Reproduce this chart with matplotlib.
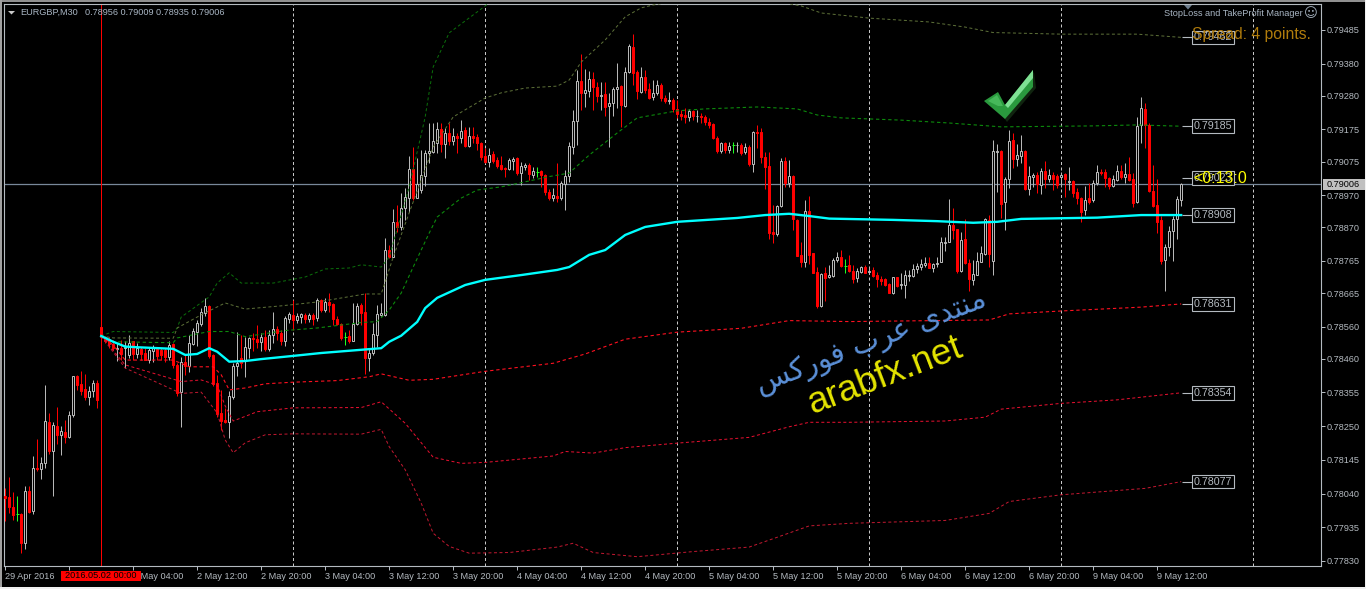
import matplotlib
matplotlib.use("Agg")
import numpy as np
import matplotlib.pyplot as plt
from matplotlib.patches import Polygon, Rectangle

plt.rcParams["font.family"] = ["Liberation Sans", "DejaVu Sans"]

# EURGBP M30 candles, prices in points (0.00001)
opens = [78031,78029,77999,77975,77977,77885,78048,77984,78119,78116,
78135,78262,78171,78252,78221,78231,78215,78285,78407,78382,
78366,78342,78361,78384,78558,78527,78521,78507,78490,78493,
78493,78472,78514,78475,78490,78479,78457,78483,78490,78486,
78488,78467,78507,78441,78355,78449,78438,78507,78545,78568,
78604,78625,78471,78384,78290,78270,78264,78342,78436,78462,
78457,78495,78526,78521,78511,78529,78491,78535,78552,78540,
78516,78583,78597,78581,78589,78597,78583,78597,78587,78642,
78612,78636,78631,78584,78568,78529,78531,78514,78568,78628,
78605,78462,78477,78535,78597,78597,78799,78778,78886,78872,
78929,78962,79052,78962,78986,79031,79101,79106,79134,79175,
79129,79163,79139,79155,79147,79173,79124,79156,79150,79132,
79093,79075,79097,79080,79064,79055,79051,79078,79085,79038,
79057,79064,79034,79043,79044,79032,78981,78960,78968,78962,
79005,79031,79121,79202,79326,79288,79296,79331,79308,79280,
79286,79248,79256,79300,79310,79248,79353,79431,79354,79293,
79337,79300,79277,79288,79314,79274,79265,79267,79238,79223,
79220,79215,79233,79216,79216,79213,79199,79191,79147,79109,
79132,79111,79127,79125,79127,79104,79119,79066,79168,79166,
79088,79061,78854,78849,78936,79077,79009,79030,78892,78782,
78761,78921,78789,78729,78625,78726,78714,78718,78768,78776,
78750,78752,78733,78711,78731,78745,78732,78737,78720,78709,
78709,78693,78664,78714,78689,78690,78718,78718,78739,78747,
78752,78760,78744,78754,78763,78822,78825,78877,78864,78735,
78832,78760,78705,78721,78763,78786,78892,78766,79105,79108,
78950,79022,79142,79083,79093,79108,78988,79028,79033,79003,
79045,79020,79033,79030,79027,79036,79012,79014,78981,78962,
78923,78960,78955,79007,79043,79041,79024,78998,79017,79046,
79027,79036,79020,78948,79188,79240,79188,78983,78939,78892,
78769,78807,78857,78895,78956]
highs = [78057,78093,78046,78031,77979,78062,78064,78157,78210,78155,
78379,78292,78264,78311,78249,78270,78296,78407,78408,78423,
78413,78374,78394,78394,78558,78531,78529,78519,78509,78519,
78514,78535,78516,78509,78498,78493,78498,78503,78498,78493,
78493,78514,78509,78446,78467,78472,78535,78555,78581,78618,
78649,78628,78475,78410,78363,78306,78358,78446,78545,78535,
78529,78529,78540,78566,78540,78550,78550,78607,78561,78550,
78592,78607,78642,78602,78602,78602,78602,78602,78649,78646,
78649,78664,78633,78592,78571,78542,78550,78633,78633,78633,
78664,78493,78571,78628,78633,78836,78815,78927,78940,78976,
78991,79092,79121,79085,79111,79111,79196,79196,79197,79194,
79178,79196,79178,79163,79204,79182,79182,79182,79161,79137,
79116,79116,79109,79090,79092,79059,79085,79090,79090,79075,
79071,79069,79057,79057,79049,79036,78988,78991,79069,79015,
79049,79137,79236,79360,79410,79362,79358,79355,79324,79324,
79324,79288,79308,79383,79314,79369,79441,79473,79360,79371,
79360,79319,79329,79329,79319,79282,79293,79272,79267,79236,
79241,79238,79236,79236,79225,79220,79210,79196,79153,79137,
79137,79137,79137,79137,79134,79132,79127,79170,79189,79178,
79106,79105,78939,78939,79085,79090,79079,79033,78895,78825,
78955,78967,78791,78747,78728,78745,78752,78773,78794,78799,
78770,78783,78752,78742,78749,78752,78747,78747,78731,78718,
78711,78695,78716,78716,78726,78737,78737,78757,78760,78770,
78778,78778,78760,78778,78841,78841,78958,78929,78866,78856,
78895,78770,78768,78794,78811,78898,78908,79142,79131,79111,
79028,79173,79163,79131,79157,79111,79061,79038,79043,79055,
79076,79053,79043,79036,79043,79040,79059,79017,78991,78965,
78998,79007,79017,79064,79053,79053,79027,79033,79064,79064,
79069,79090,79038,79214,79275,79256,79194,79064,79022,78906,
78817,78875,78906,78966,79009]
lows = [77953,77979,77956,77953,77856,77866,77979,77977,78109,78085,
78119,78164,78031,78195,78161,78199,78212,78278,78363,78348,
78332,78316,78340,78308,78527,78509,78493,78488,78454,78457,
78431,78462,78457,78462,78457,78455,78446,78451,78457,78457,
78451,78457,78431,78344,78246,78410,78420,78503,78500,78561,
78592,78462,78374,78280,78238,78259,78212,78334,78405,78431,
78402,78462,78483,78493,78483,78485,78483,78509,78519,78503,
78501,78571,78550,78571,78571,78571,78576,78566,78579,78607,
78607,78605,78566,78566,78519,78503,78509,78514,78566,78566,
78413,78423,78472,78498,78592,78592,78773,78778,78856,78862,
78893,78919,78955,78960,78976,78999,79069,79101,79101,79106,
79085,79127,79127,79101,79132,79119,79121,79132,79111,79080,
79069,79059,79071,79054,79049,79026,79049,79049,79033,79001,
79049,79017,79023,79026,78997,78971,78955,78953,78950,78955,
78924,79012,79098,79127,79236,79244,79277,79236,79262,79236,
79217,79121,79217,79241,79184,79244,79350,79314,79270,79288,
79288,79269,79267,79282,79265,79258,79254,79230,79210,79204,
79196,79202,79204,79199,79196,79189,79178,79144,79101,79101,
79103,79103,79103,79106,79095,79098,79061,79043,79116,79069,
78988,78832,78820,78843,78932,78996,78994,78861,78780,78747,
78745,78757,78726,78617,78622,78641,78711,78716,78763,78747,
78726,78731,78697,78700,78726,78726,78724,78714,78685,78690,
78687,78664,78662,78685,78679,78648,78703,78716,78726,78737,
78747,78742,78731,78745,78761,78797,78823,78832,78726,78731,
78755,78672,78690,78721,78761,78783,78745,78721,78981,78898,
78861,78991,79056,79061,79071,78986,78970,78996,78976,78975,
78991,79012,78986,78991,78994,78965,78986,78965,78944,78887,
78908,78944,78950,79001,79033,78996,78989,78996,79015,79022,
79007,79015,78934,78946,79133,79116,78981,78934,78851,78755,
78672,78781,78766,78833,78935]
closes = [78025,77999,77973,77975,77885,78049,77982,78119,78115,78135,
78266,78171,78254,78221,78236,78215,78285,78405,78379,78361,
78342,78361,78386,78330,78527,78514,78507,78495,78493,78475,
78498,78509,78475,78493,78475,78457,78486,78493,78469,78472,
78467,78503,78441,78353,78451,78439,78509,78548,78571,78605,
78625,78469,78382,78288,78266,78264,78344,78439,78446,78446,
78496,78524,78521,78511,78527,78491,78535,78552,78540,78516,
78587,78599,78581,78592,78599,78584,78597,78584,78642,78612,
78638,78628,78584,78568,78524,78529,78514,78569,78625,78604,
78462,78479,78537,78600,78602,78799,78776,78886,78872,78929,
78963,79051,78960,79005,79033,79101,79108,79139,79176,79129,
79163,79139,79155,79147,79170,79124,79155,79149,79132,79090,
79075,79095,79078,79062,79053,79051,79080,79083,79038,79061,
79064,79035,79044,79043,79032,78981,78962,78970,78962,79007,
79031,79123,79202,79326,79288,79298,79331,79308,79280,79282,
79246,79258,79301,79308,79251,79355,79436,79352,79296,79337,
79298,79272,79288,79314,79272,79264,79267,79238,79222,79217,
79215,79233,79217,79218,79213,79198,79189,79147,79109,79132,
79111,79124,79127,79127,79103,79119,79066,79166,79163,79088,
79059,78853,78850,78936,79077,79009,79030,78895,78781,78761,
78921,78783,78728,78625,78724,78711,78720,78768,78778,78749,
78750,78733,78708,78733,78745,78728,78735,78718,78708,78704,
78690,78666,78714,78688,78693,78721,78721,78739,78750,78754,
78760,78744,78754,78760,78823,78825,78877,78863,78735,78830,
78759,78709,78723,78765,78789,78895,78786,79108,79108,78944,
79022,79139,79083,79095,79108,78988,79030,79033,79005,79045,
79020,79033,79022,79001,79033,79020,79014,78977,78962,78918,
78955,78949,79007,79041,79040,79024,78998,79019,79046,79027,
79036,79017,78946,79185,79243,79188,78983,78937,78887,78766,
78807,78857,78895,78958,79006]

# anchored vwap and bands, read at the bars where the line bends
mid_bars = [24,27,30,33,42,45,48,51,53,56,60,64,72,79,89,94,96,99,103,105,108,115,120,129,138,141,146,150,155,160,168,183,190,196,201,206,222,233,242,248,254,273,284,294]
mid_vals = [78531,78513,78498,78496,78491,78472,78475,78493,78482,78451,78453,78459,78469,78478,78488,78493,78513,78532,78575,78618,78650,78690,78706,78721,78737,78746,78784,78799,78846,78871,78887,78899,78908,78912,78905,78897,78893,78889,78884,78887,78896,78900,78908,78908]

up1_bars = [24,27,42,43,51,56,60,70,78,89,93,96,99,102,106,108,114,118,124,129,136,141,146,153,158,168,175,188,198,203,209,224,236,249,272,283,294]
up1_vals = [78531,78513,78510,78525,78545,78545,78529,78548,78556,78573,78576,78612,78665,78746,78852,78902,78961,78986,78996,79009,79028,79039,79095,79164,79211,79233,79239,79245,79239,79220,79211,79204,79195,79183,79186,79189,79185]

up2_bars = [24,27,42,43,49,55,60,69,78,90,94,97,101,107,112,120,124,130,138,141,144,150,155,159,162,180,199,204,216,231,240,247,264,283,294]
up2_vals = [78531,78525,78524,78556,78597,78634,78615,78625,78637,78662,78662,78777,78915,79120,79214,79273,79289,79304,79310,79329,79385,79454,79526,79554,79563,79603,79560,79538,79522,79510,79494,79477,79472,79472,79462]

up3_bars = [24,27,42,43,44,51,53,56,59,67,75,80,86,89,94,96,101,105,107,111,120,126]
up3_vals = [78531,78545,78542,78556,78590,78653,78696,78728,78696,78696,78715,78740,78743,78753,78746,78777,78996,79214,79370,79476,79560,79620]

dn1_bars = [24,27,30,42,46,52,54,56,60,65,72,83,91,94,101,107,120,137,145,155,168,184,196,211,246,251,264,284,294]
dn1_vals = [78531,78503,78456,78456,78435,78435,78410,78363,78369,78382,78387,78392,78404,78413,78393,78396,78421,78446,78475,78521,78543,78555,78579,78576,78581,78600,78609,78621,78631]

dn2_bars = [24,30,44,49,53,55,57,63,72,89,94,100,107,114,120,137,140,147,155,168,186,196,201,211,235,245,249,264,278,294]
dn2_vals = [78531,78441,78389,78394,78378,78313,78266,78295,78307,78308,78326,78259,78153,78134,78137,78157,78171,78166,78183,78197,78215,78248,78262,78262,78266,78278,78303,78321,78332,78354]

dn3_bars = [24,30,44,49,53,55,57,60,65,72,89,94,96,100,104,107,111,116,126,138,142,147,158,172,186,194,201,211,235,246,251,264,285,294]
dn3_vals = [78531,78431,78352,78356,78291,78207,78167,78198,78223,78226,78225,78240,78186,78114,78010,77916,77875,77854,77856,77873,77885,77856,77843,77859,77873,77908,77939,77947,77956,77978,78015,78036,78056,78077]

price_ticks = [0.79485,0.79380,0.79280,0.79175,0.79075,0.78970,0.78870,0.78765,0.78665,0.78560,0.78460,0.78355,0.78250,0.78145,0.78040,0.77935,0.77830]
time_bars = [0,32,48,64,80,96,112,128,144,160,176,192,208,224,240,256,272,288]
time_labels = ["29 Apr 2016","2 May 04:00","2 May 12:00","2 May 20:00","3 May 04:00","3 May 12:00",
               "3 May 20:00","4 May 04:00","4 May 12:00","4 May 20:00","5 May 04:00","5 May 12:00",
               "5 May 20:00","6 May 04:00","6 May 12:00","6 May 20:00","9 May 04:00","9 May 12:00"]
grid_bars = [72,120,168,216,264,312]
box_levels = [0.79462,0.79185,0.79023,0.78908,0.78631,0.78354,0.78077]
last_price = 0.79006

W, H = 1366, 589
SILVER = "#b4bac0"

fig = plt.figure(figsize=(W/100, H/100), dpi=100, facecolor="black")
ax = fig.add_axes([4/W, 1-566/H, (1321-4)/W, (566-4)/H], facecolor="black")

o = np.array(opens)/1e5
h = np.array(highs)/1e5
l = np.array(lows)/1e5
c = np.array(closes)/1e5
x = np.arange(len(o))

ax.vlines(grid_bars, 0, 1, transform=ax.get_xaxis_transform(), colors="#c8c8c8",
          linewidth=0.72, linestyles=[(0, (3, 2.5))], zorder=1)
ax.axhline(last_price, color="#78889a", linewidth=0.9, zorder=1)
ax.axvline(24, color="#ff0000", linewidth=0.72, zorder=1.5)

up = c > o
dn = c < o
dj = c == o
ax.vlines(x[up], l[up], h[up], colors="#b8b8b8", linewidth=0.72, zorder=3)
ax.vlines(x[dn], l[dn], h[dn], colors="#ff0000", linewidth=0.72, zorder=3)
ax.vlines(x[dj], l[dj], h[dj], colors="#20ff20", linewidth=0.72, zorder=3)
ax.bar(x[up], (c-o)[up], bottom=o[up], width=0.5, facecolor="black", edgecolor="#b8b8b8", linewidth=0.72, zorder=3.2)
ax.bar(x[dn], (c-o)[dn], bottom=o[dn], width=0.5, facecolor="#ff0000", edgecolor="#ff0000", linewidth=0.72, zorder=3.2)
ax.hlines(o[dj], x[dj]-0.4, x[dj]+0.4, colors="#20ff20", linewidth=0.72, zorder=3.2)

def band(bars, vals, color, lw=0.72):
    ax.plot(bars, np.array(vals)/1e5, color=color, linewidth=lw, linestyle=(0, (3, 2.5)), zorder=4)

band(up3_bars, up3_vals, "#0b6e0b")
band(up2_bars, up2_vals, "#5d7038")
band(up1_bars, up1_vals, "#0c8a0c", 0.8)
band(dn1_bars, dn1_vals, "#ff1020", 0.8)
band(dn2_bars, dn2_vals, "#e81030")
band(dn3_bars, dn3_vals, "#c01830")
ax.plot(mid_bars, np.array(mid_vals)/1e5, color="#00ffff", linewidth=1.7, zorder=5)

ax.set_xlim(-0.3, 328.95)
ax.set_ylim(0.77814, 0.79566)
ax.yaxis.tick_right()
ax.set_yticks(price_ticks)
ax.set_yticklabels(["%.5f" % p for p in price_ticks])
ax.set_xticks([0,16]+time_bars[1:])
ax.set_xticklabels([time_labels[0],""]+time_labels[1:], ha="left")
ax.tick_params(axis="both", colors=SILVER, labelsize=6.6, length=2.9, width=0.72)
ax.tick_params(axis="x", pad=1.2)
ax.tick_params(axis="y", pad=1.0)
for s in ax.spines.values():
    s.set_color(SILVER)
    s.set_linewidth(0.8)

# labelled levels at the end of the bands
ax.hlines(box_levels, 294.3, 296.6, colors=SILVER, linewidth=0.8, zorder=5)
for lev in box_levels:
    ax.text(297.1, lev, "%.5f" % lev, color=SILVER, fontsize=7.7, va="center", ha="left", zorder=6,
            bbox=dict(boxstyle="square,pad=0.17", facecolor="black", edgecolor=SILVER, linewidth=0.8))

def pxt(px, py, s, **kw):
    return fig.text(px/W, 1-py/H, s, **kw)

def pxpoly(pts, **kw):
    fig.add_artist(Polygon([(a/W, 1-b/H) for a, b in pts], closed=True, transform=fig.transFigure, **kw))

def pxrect(x0, y0, x1, y1, color, zorder=5):
    fig.add_artist(Rectangle((x0/W, 1-y1/H), (x1-x0)/W, (y1-y0)/H, transform=fig.transFigure,
                             facecolor=color, edgecolor="none", zorder=zorder))

# current price and anchor time tags
pxrect(1323, 179, 1365, 189.5, "#c0c0c0")
pxt(1327, 184.5, "%.5f" % last_price, color="black", fontsize=6.6, va="center", zorder=6)
pxrect(61, 571, 141, 581, "#ff0000")
pxt(101, 576, "2016.05.02 00:00", color="black", fontsize=6.6, va="center", ha="center", zorder=6)

TITLE = "#a9b6c4"
pxt(20, 12.5, "EURGBP,M30", color=TITLE, fontsize=6.6, va="center")
pxt(85, 12.5, "0.78956 0.79009 0.78935 0.79006", color=TITLE, fontsize=6.6, va="center")
pxpoly([(8, 11), (15, 11), (11.5, 14.5)], facecolor="#c8c8c8", edgecolor="none")
pxpoly([(1184, 5), (1192, 5), (1188, 9.5)], facecolor="#708090", edgecolor="none", zorder=5)

pxt(1303, 13.5, "StopLoss and TakeProfit Manager", color=TITLE, fontsize=6.6, va="center", ha="right", zorder=9)
pxt(1311, 13.5, "\u263a", color=TITLE, fontsize=9.5, va="center", ha="center", family="DejaVu Sans", zorder=9)
pxt(1192, 35, "Spread: 4 points.", color="#b07c0c", fontsize=11.3, va="center", zorder=9)
pxt(1193, 178.5, "<0:13:0", color="#ffff00", fontsize=11.5, va="center", zorder=9)

# forum watermark, arabic letters in shaped forms and visual order
pxt(871, 343, "\uFEB2\uFEDB\uFEAD\uFEEE\uFED3 \uFE8F\uFEAE\uFECB \uFEEF\uFEAA\uFE98\uFEE8\uFEE3", color="#5b90d8", fontsize=21,
    family="DejaVu Sans", rotation=21, rotation_mode="anchor", va="center", ha="center", zorder=9)
pxt(885, 376, "arabfx.net", color="#e4e400", fontsize=26.5, rotation=21, rotation_mode="anchor", va="center", ha="center", zorder=9)

# check mark
pxpoly([(1034, 72), (1036, 88), (1007, 122), (1000, 112)], facecolor="#10240f", edgecolor="none", zorder=8)
pxpoly([(984, 101), (998, 92), (1005, 105), (1033, 70), (1033, 87), (1005, 119)], facecolor="#2a9a3e", edgecolor="none", zorder=9)
pxpoly([(1005, 105), (1033, 70), (1033, 78), (1008, 108)], facecolor="#7fe094", edgecolor="none", zorder=10)
pxpoly([(988, 101), (997, 95), (1003, 106), (998, 106)], facecolor="#46b85a", edgecolor="none", zorder=10)

# window frame
pxrect(0, 0, W, 2, "#909090", 1)
pxrect(0, 0, 2, H, "#a0a0a0", 1)
pxrect(0, H-2, W, H, "#f0f0f0", 1)
pxrect(W-1, 0, W, H, "#f0f0f0", 1)

fig.savefig("out.png", dpi=100, facecolor="black")
